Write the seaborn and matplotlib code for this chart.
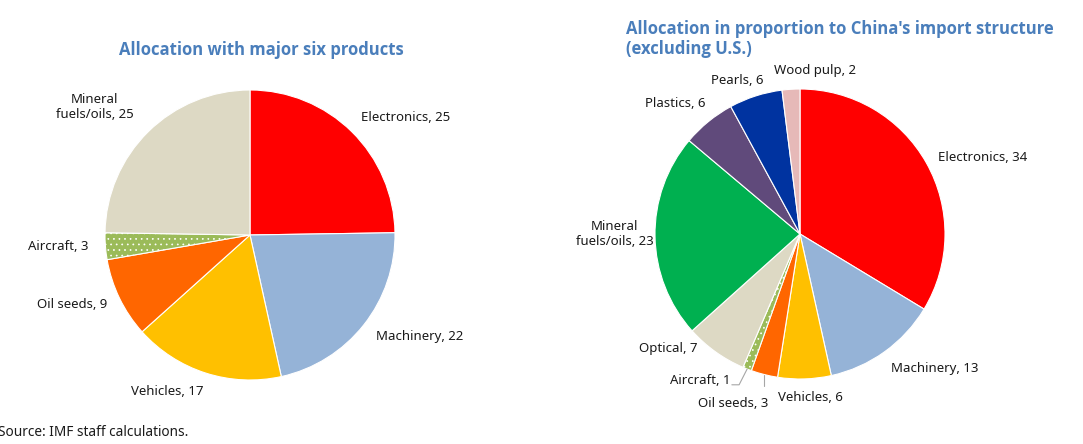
import numpy as np
import matplotlib
matplotlib.use("Agg")
import matplotlib.pyplot as plt
import seaborn as sns

sns.set_style("white")
plt.rcParams['font.family'] = ['Noto Sans', 'DejaVu Sans']
plt.rcParams['hatch.linewidth'] = 0.5

# ---------------- data ----------------
left_title = "Allocation with major six products"
left_labels = ["Electronics", "Machinery", "Vehicles", "Oil seeds", "Aircraft", "Mineral\nfuels/oils"]
left_values = [25, 22, 17, 9, 3, 25]
left_colors = ["#FF0000", "#95B3D7", "#FFC000", "#FF6600", "#9BBB59", "#DDD9C4"]

right_title = "Allocation in proportion to China's import structure\n(excluding U.S.)"
right_labels = ["Electronics", "Machinery", "Vehicles", "Oil seeds", "Aircraft", "Optical",
                "Mineral\nfuels/oils", "Plastics", "Pearls", "Wood pulp"]
right_values = [34, 13, 6, 3, 1, 7, 23, 6, 6, 2]
right_colors = ["#FF0000", "#95B3D7", "#FFC000", "#FF6600", "#9BBB59", "#DDD9C4",
                "#00B050", "#604A7B", "#0033A0", "#E6B9B8"]

source_text = "Source: IMF staff calculations."

# ---------------- layout (label placement, in pie-radius units) ----------------
left_label_pos = {
    "Electronics": (1.07, 0.81), "Machinery": (1.17, -0.70), "Vehicles": (-0.57, -1.08),
    "Oil seeds": (-1.23, -0.48), "Aircraft": (-1.32, -0.08), "Mineral\nfuels/oils": (-1.07, 0.88),
}
right_label_pos = {
    "Electronics": (1.26, 0.53), "Machinery": (0.93, -0.93), "Vehicles": (0.07, -1.13),
    "Oil seeds": (-0.46, -1.17), "Aircraft": (-0.69, -1.01), "Optical": (-0.91, -0.79),
    "Mineral\nfuels/oils": (-1.28, 0.0), "Plastics": (-0.86, 0.90), "Pearls": (-0.43, 1.06),
    "Wood pulp": (0.10, 1.13),
}
leader = {"Oil seeds": True, "Aircraft": True}

W, H = 1083, 444
fig = plt.figure(figsize=(W / 100, H / 100), dpi=100)
fig.patch.set_facecolor("white")
title_color = "#4A7EBB"
R = 145


def make_axes(cx, cy):
    return fig.add_axes([(cx - R) / W, 1 - (cy + R) / H, 2 * R / W, 2 * R / H])


def draw_pie(ax, labels, values, colors, label_pos, leaders):
    wedges, _ = ax.pie(values, colors=colors, startangle=90, counterclock=False,
                       radius=1.0, wedgeprops=dict(edgecolor="white", linewidth=0.8))
    for w, lab, v in zip(wedges, labels, values):
        if lab == "Aircraft":
            w.set_hatch("...")
        tx, ty = label_pos[lab]
        ax.text(tx, ty, f"{lab}, {v}", ha="center", va="center", fontsize=9.5, color="#1a1a1a",
                linespacing=1.2)
        if leaders and lab in leaders:
            mid = np.deg2rad((w.theta1 + w.theta2) / 2)
            ex, ey = np.cos(mid), np.sin(mid)
            if lab == "Oil seeds":
                ax.plot([ex, ex], [ey, ty + 0.12], color="#A6A6A6", lw=0.8, clip_on=False)
            else:
                ax.plot([ex, tx + 0.27, tx + 0.22], [ey, ty - 0.03, ty - 0.03],
                        color="#A6A6A6", lw=0.8, clip_on=False)
    ax.set_xlim(-1, 1)
    ax.set_ylim(-1, 1)
    ax.set_aspect("equal")
    ax.axis("off")


axL = make_axes(250, 235)
draw_pie(axL, left_labels, left_values, left_colors, left_label_pos, {})
axR = make_axes(800, 234)
draw_pie(axR, right_labels, right_values, right_colors, right_label_pos, leader)

title_font = ['Open Sans', 'DejaVu Sans']
fig.text(261 / W, 1 - 50 / H, left_title, ha="center", va="center", fontsize=12,
         fontweight="bold", color=title_color, family=title_font)
fig.text(626 / W, 1 - 39 / H, right_title, ha="left", va="center", fontsize=12,
         fontweight="bold", color=title_color, linespacing=1.2, family=title_font)
fig.text(-2 / W, 1 - 432 / H, source_text, ha="left", va="center", fontsize=9.8, color="#1a1a1a")

fig.savefig("out.png", dpi=100, facecolor="white")
